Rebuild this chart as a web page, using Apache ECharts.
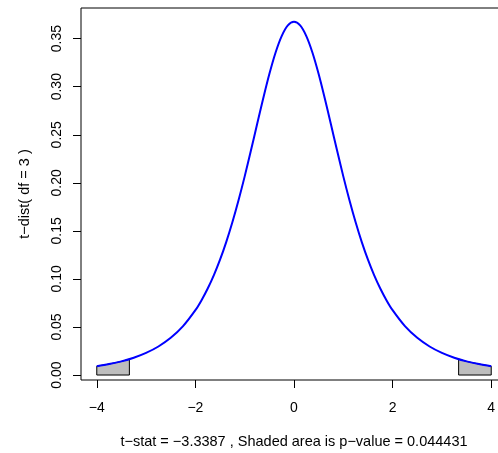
<!DOCTYPE html>
<html><head><meta charset="utf-8">
<script src="https://cdn.jsdelivr.net/npm/echarts@6/dist/echarts.min.js"></script>
<style>html,body{margin:0;padding:0;background:#fff}#c{width:498px;height:453px}</style>
</head><body><div id="c"></div>
<script>
const xs = [-4,-3.75,-3.5,-3.25,-3,-2.75,-2.5,-2.25,-2,-1.875,-1.75,-1.625,-1.5,-1.375,-1.25,-1.125,-1,-0.875,-0.75,-0.625,-0.5,-0.375,-0.25,-0.125,0,
  0.125,0.25,0.375,0.5,0.625,0.75,0.875,1,1.125,1.25,1.375,1.5,1.625,1.75,1.875,2,2.25,2.5,2.75,3,3.25,3.5,3.75,4];
const density = [0.0092,0.0114,0.0142,0.0180,0.0230,0.0297,0.0387,0.0509,0.0675,0.0779,0.0900,0.1040,0.1200,0.1383,0.1589,0.1818,0.2067,0.2333,0.2606,0.2877,0.3132,0.3354,0.3527,0.3638,0.3676,
  0.3638,0.3527,0.3354,0.3132,0.2877,0.2606,0.2333,0.2067,0.1818,0.1589,0.1383,0.1200,0.1040,0.0900,0.0779,0.0675,0.0509,0.0387,0.0297,0.0230,0.0180,0.0142,0.0114,0.0092];
const leftTailX = [-4,-3.75,-3.5,-3.3387];
const leftTailY = [0.0092,0.0114,0.0142,0.0165];
const rightTailX = [3.3387,3.5,3.75,4];
const rightTailY = [0.0165,0.0142,0.0114,0.0092];
const xTicks = [-4,-2,0,2,4];
const yTicks = [0,0.05,0.10,0.15,0.20,0.25,0.30,0.35];
const tStat = '−3.3387';
const pValue = '0.044431';
const df = 3;

const FONT = '"Liberation Sans", Arial, Helvetica, sans-serif';
const curve = xs.map((x,i)=>[x,density[i]]);
function tail(tx, ty){
  const pts = [[tx[0],0]];
  tx.forEach((x,i)=>pts.push([x,ty[i]]));
  pts.push([tx[tx.length-1],0]);
  pts.push([tx[0],0]);
  return pts;
}
const chart = echarts.init(document.getElementById('c'), null, {renderer:'canvas'});
chart.setOption({
  animation:false,
  backgroundColor:'#fff',
  grid:{left:81,top:8,width:426,height:372,show:true,borderColor:'#000',borderWidth:1,
    backgroundColor:'transparent',containLabel:false,outerBoundsMode:'none'},
  xAxis:{type:'value',min:-4.32,max:4.32,
    name:'t−stat = '+tStat+' , Shaded area is p−value = '+pValue,
    nameLocation:'middle',nameGap:54,
    nameTextStyle:{color:'#000',fontSize:14.5,fontFamily:FONT},
    axisLine:{show:false,onZero:false},splitLine:{show:false},
    axisTick:{show:true,length:8,lineStyle:{color:'#000'},customValues:xTicks},
    axisLabel:{customValues:xTicks,color:'#000',fontSize:14,fontFamily:FONT,margin:21,
      formatter:v=>String(v).replace('-','−')}
  },
  yAxis:{type:'value',min:-0.00518,max:0.3819,
    name:'t−dist( df = '+df+' )',
    nameLocation:'middle',nameGap:49,nameRotate:90,
    nameTextStyle:{color:'#000',fontSize:14.5,fontFamily:FONT},
    axisLine:{show:false,onZero:false},splitLine:{show:false},
    axisTick:{show:true,length:8,lineStyle:{color:'#000'},customValues:yTicks},
    axisLabel:{customValues:yTicks,color:'#000',fontSize:14,fontFamily:FONT,margin:17,rotate:90,
      formatter:v=>v.toFixed(2)}
  },
  series:[
    {type:'line',data:tail(leftTailX,leftTailY),symbol:'none',z:2,
      lineStyle:{color:'#000',width:1},areaStyle:{color:'#BEBEBE',opacity:1,origin:0}},
    {type:'line',data:tail(rightTailX,rightTailY),symbol:'none',z:2,
      lineStyle:{color:'#000',width:1},areaStyle:{color:'#BEBEBE',opacity:1,origin:0}},
    {type:'line',data:curve,symbol:'none',smooth:0.35,z:3,
      lineStyle:{color:'#0000FF',width:2}}
  ]
});
</script></body></html>
